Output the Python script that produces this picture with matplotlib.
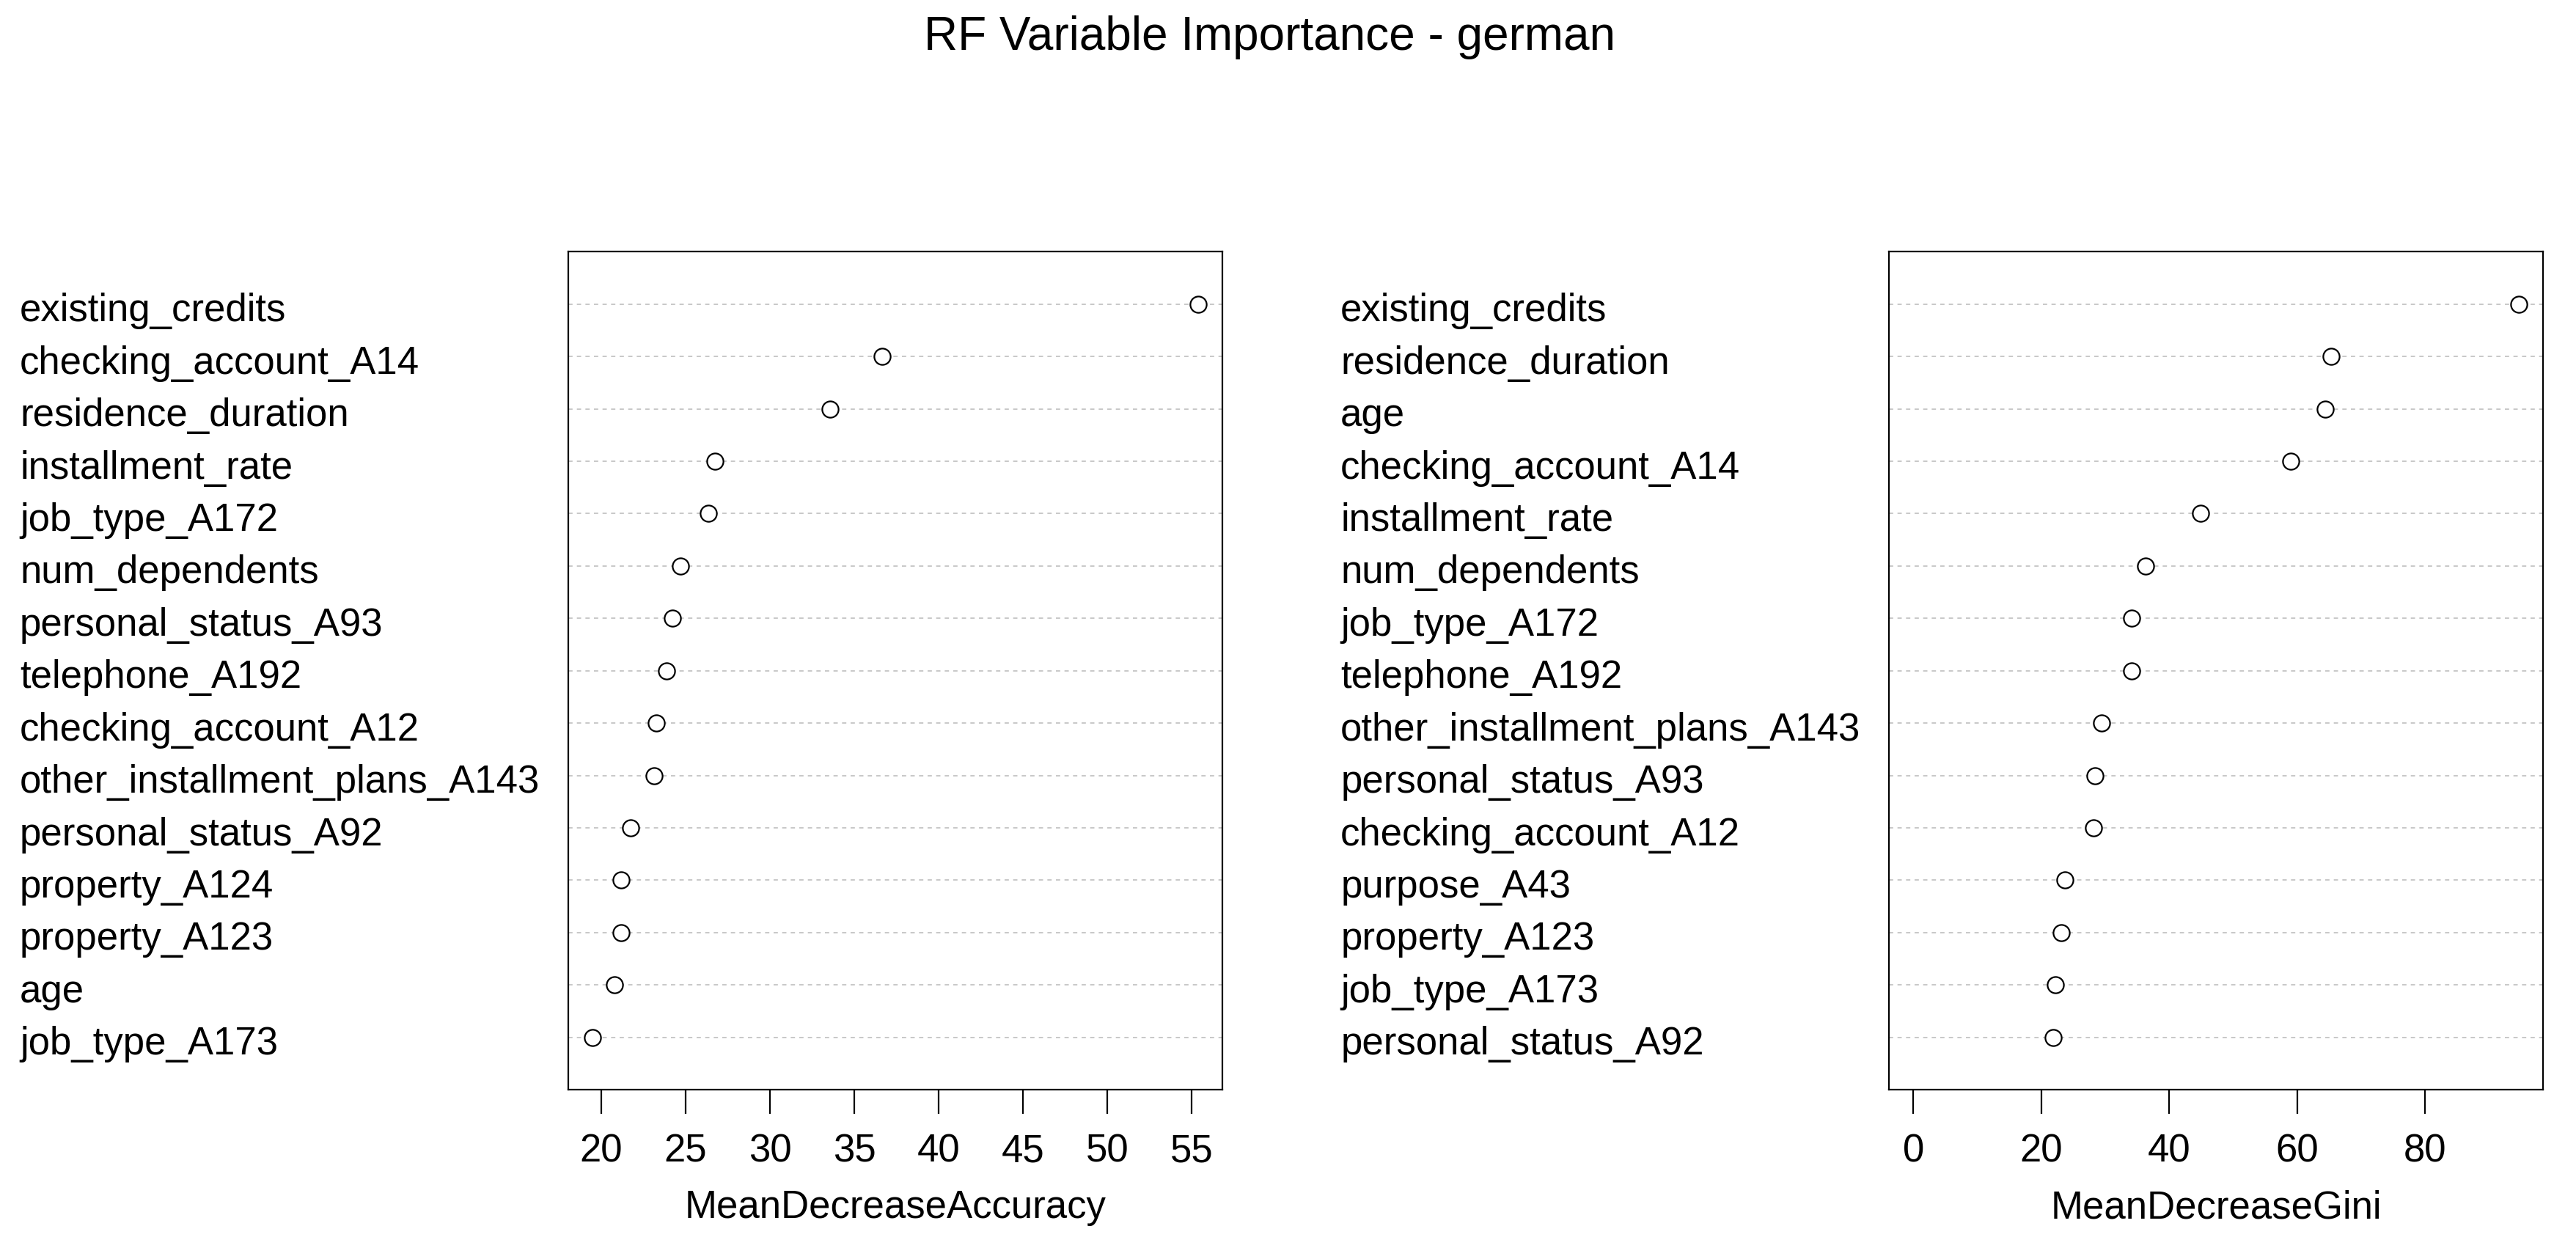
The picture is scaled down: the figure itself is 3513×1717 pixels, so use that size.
import matplotlib
matplotlib.use("Agg")
import matplotlib.pyplot as plt
from matplotlib.transforms import blended_transform_factory

plt.rcParams["font.family"] = ["Liberation Sans", "DejaVu Sans"]

# panel 1: MeanDecreaseAccuracy (top to bottom)
acc_labels = ["existing_credits", "checking_account_A14", "residence_duration",
              "installment_rate", "job_type_A172", "num_dependents",
              "personal_status_A93", "telephone_A192", "checking_account_A12",
              "other_installment_plans_A143", "personal_status_A92", "property_A124",
              "property_A123", "age", "job_type_A173"]
acc_values = [55.37, 36.66, 33.56, 26.73, 26.36, 24.70, 24.23, 23.89, 23.28,
              23.15, 21.73, 21.16, 21.16, 20.81, 19.50]
acc_ticks = [20, 25, 30, 35, 40, 45, 50, 55]

# panel 2: MeanDecreaseGini (top to bottom)
gini_labels = ["existing_credits", "residence_duration", "age",
               "checking_account_A14", "installment_rate", "num_dependents",
               "job_type_A172", "telephone_A192", "other_installment_plans_A143",
               "personal_status_A93", "checking_account_A12", "purpose_A43",
               "property_A123", "job_type_A173", "personal_status_A92"]
gini_values = [94.67, 65.29, 64.38, 58.98, 44.95, 36.26, 34.08, 34.08, 29.38,
               28.40, 28.12, 23.70, 23.14, 22.16, 21.81]
gini_ticks = [0, 20, 40, 60, 80]

FS = 38

fig = plt.figure(figsize=(35.13, 17.17), dpi=100)
fig.patch.set_facecolor("white")


def dotpanel(rect, labels, values, ticks, xlab, xmin, label_x):
    ax = fig.add_axes(rect)
    n = len(values)
    ys = [n - i for i in range(n)]
    lo, hi = xmin, max(values)
    ext = (hi - lo) * 0.04
    ax.set_xlim(lo - ext, hi + ext)
    ax.set_ylim(0, n + 1)
    for y in ys:
        ax.axhline(y, color="#c8c8c8", lw=1.4, ls=(0, (3, 3)), zorder=1)
    ax.plot(values, ys, ls="none", marker="o", ms=16, mfc="white",
            mec="black", mew=1.6, zorder=3)
    ax.set_yticks([])
    ax.set_xticks(ticks)
    ax.tick_params(axis="x", direction="out", length=24, width=1.6,
                   pad=19, labelsize=FS)
    for s in ax.spines.values():
        s.set_linewidth(1.6)
    ax.set_xlabel(xlab, fontsize=FS)
    ax.xaxis.set_label_coords(0.5, -0.119)
    tr = blended_transform_factory(fig.transFigure, ax.transData)
    for lab, y in zip(labels, ys):
        ax.text(label_x, y - 0.33, lab, transform=tr, ha="left",
                va="baseline", fontsize=FS, clip_on=False)
    return ax


dotpanel([0.2207, 0.1345, 0.2538, 0.6655], acc_labels, acc_values, acc_ticks,
         "MeanDecreaseAccuracy", min(acc_values), 0.0077)
dotpanel([0.7334, 0.1345, 0.2538, 0.6655], gini_labels, gini_values, gini_ticks,
         "MeanDecreaseGini", 0, 0.5204)

fig.text(0.493, 0.9604, "RF Variable Importance - german", ha="center",
         va="baseline", fontsize=46)

fig.savefig("out.png", dpi=100)
